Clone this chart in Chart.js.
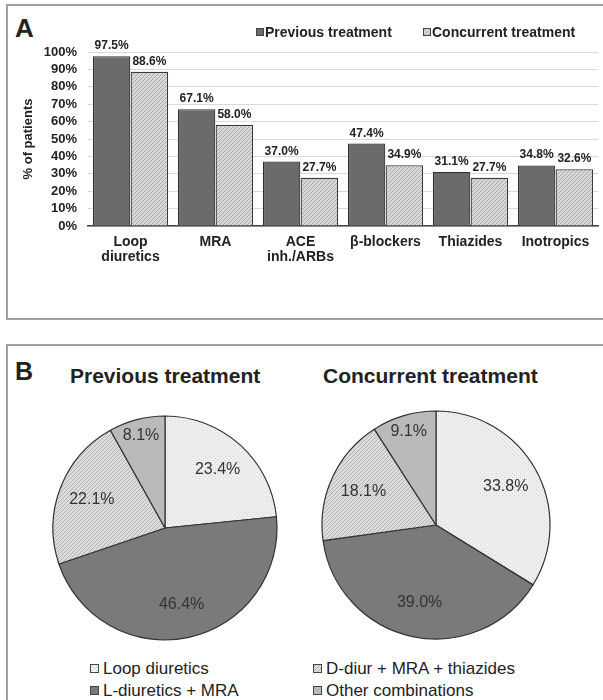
<!DOCTYPE html>
<html>
<head>
<meta charset="utf-8">
<script src="https://cdn.jsdelivr.net/npm/chart.js@4.4.1/dist/chart.umd.min.js"></script>
<style>
  body { margin: 0; width: 603px; height: 700px; background: #fff; position: relative; overflow: hidden;
         font-family: "Liberation Sans", Arial, sans-serif; color: #222; }
  .panel { position: absolute; border: 2px solid #a0a0a0; box-sizing: border-box; }
  #panelA { left: 6px; top: 4px; width: 620px; height: 316px; }
  #panelB { left: 6px; top: 344px; width: 620px; height: 420px; }
  .txt { position: absolute; line-height: 1; white-space: nowrap; }
  .letter { font-weight: bold; }
  canvas { position: absolute; }
  .sw { position: absolute; }
</style>
</head>
<body>
<div class="panel" id="panelA"></div>
<div class="panel" id="panelB"></div>

<div class="txt letter" style="left:15px; top:15px; font-size:26px;">A</div>
<div class="txt letter" style="left:15px; top:359px; font-size:25px;">B</div>

<canvas id="barChart" width="603" height="320" style="left:0; top:0;"></canvas>
<div id="barLegend"></div>

<div class="txt" id="titlePrev" style="left:70px; top:365px; font-size:21px; font-weight:bold;"></div>
<div class="txt" id="titleConc" style="left:323px; top:365px; font-size:21px; font-weight:bold;"></div>

<canvas id="piePrev" width="240" height="240" style="left:45px; top:408px;"></canvas>
<canvas id="pieConc" width="240" height="240" style="left:316px; top:405px;"></canvas>
<div id="pieLegend"></div>

<script>
// data
const categories = [['Loop', 'diuretics'], 'MRA', ['ACE', 'inh./ARBs'], 'β-blockers', 'Thiazides', 'Inotropics'];
const seriesNames = ['Previous treatment', 'Concurrent treatment'];
const previousPct = [97.5, 67.1, 37.0, 47.4, 31.1, 34.8];
const concurrentPct = [88.6, 58.0, 27.7, 34.9, 27.7, 32.6];

const pieTitles = ['Previous treatment', 'Concurrent treatment'];
const comboLabels = ['Loop diuretics', 'L-diuretics + MRA', 'D-diur + MRA + thiazides', 'Other combinations'];
const previousCombo = [23.4, 46.4, 22.1, 8.1];
const concurrentCombo = [33.8, 39.0, 18.1, 9.1];

Chart.defaults.font.family = '"Liberation Sans", Arial, sans-serif';
Chart.defaults.color = '#222';

function makePattern(bg, fg, kind) {
    const c = document.createElement('canvas');
    c.width = 4;
    c.height = 4;
    const g = c.getContext('2d');
    g.fillStyle = bg;
    g.fillRect(0, 0, 4, 4);
    g.fillStyle = fg;
    if (kind === 'diag') {
        for (let i = 0; i < 4; i++) g.fillRect(i, 3 - i, 1, 1);
    } else {
        g.fillRect(0, 0, 1, 1);
        g.fillRect(2, 2, 1, 1);
    }
    return g.createPattern(c, 'repeat');
}

const prevBarFill = '#6b6b6b';
const concBarFill = makePattern('#d8d8d8', '#a9a9a9', 'diag');
const pieFills = [
    makePattern('#efefef', '#cfcfcf', 'dots'),
    '#7a7a7a',
    makePattern('#dcdcdc', '#b2b2b2', 'diag'),
    '#bababa'
];

// value labels above each bar
const barValueLabels = {
    id: 'barValueLabels',
    afterDatasetsDraw(chart) {
        const ctx = chart.ctx;
        ctx.save();
        ctx.font = 'bold 12px "Liberation Sans", Arial, sans-serif';
        ctx.fillStyle = '#222';
        ctx.textAlign = 'center';
        ctx.textBaseline = 'alphabetic';
        chart.data.datasets.forEach((ds, i) => {
            chart.getDatasetMeta(i).data.forEach((bar, j) => {
                ctx.fillText(ds.data[j].toFixed(1) + '%', bar.x, bar.y - 7);
            });
        });
        ctx.restore();
    }
};

// percentage labels inside the slices
const sliceLabels = {
    id: 'sliceLabels',
    afterDatasetsDraw(chart) {
        const ctx = chart.ctx;
        const values = chart.data.datasets[0].data;
        ctx.save();
        ctx.font = '16px "Liberation Sans", Arial, sans-serif';
        ctx.fillStyle = '#333';
        ctx.textAlign = 'center';
        ctx.textBaseline = 'middle';
        chart.getDatasetMeta(0).data.forEach((arc, i) => {
            const mid = (arc.startAngle + arc.endAngle) / 2;
            const f = values[i] < 10 ? 0.85 : 0.7;
            const x = arc.x + Math.cos(mid) * arc.outerRadius * f;
            const y = arc.y + Math.sin(mid) * arc.outerRadius * f;
            ctx.fillText(values[i].toFixed(1) + '%', x, y);
        });
        ctx.restore();
    }
};

const barChart = new Chart(document.getElementById('barChart'), {
    type: 'bar',
    data: {
        labels: categories,
        datasets: [{
            label: seriesNames[0],
            data: previousPct,
            backgroundColor: prevBarFill,
            borderColor: '#303030',
            borderWidth: 1.2
        }, {
            label: seriesNames[1],
            data: concurrentPct,
            backgroundColor: concBarFill,
            borderColor: '#3a3a3a',
            borderWidth: 1.2
        }]
    },
    options: {
        responsive: false,
        animation: false,
        layout: { padding: { top: 52, left: 0, right: 5, bottom: 0 } },
        datasets: { bar: { categoryPercentage: 0.89, barPercentage: 0.99 } },
        plugins: {
            legend: { display: false },
            tooltip: { enabled: false }
        },
        scales: {
            y: {
                min: 0,
                max: 100,
                ticks: {
                    stepSize: 10,
                    autoSkip: false,
                    padding: 11,
                    font: { size: 13, weight: 'bold', lineHeight: 1 },
                    callback: v => v + '%'
                },
                grid: { color: '#dadada', drawTicks: false },
                border: { display: false },
                title: {
                    display: true,
                    text: '% of patients',
                    font: { size: 13, weight: 'bold' },
                    padding: { top: 21, bottom: 0 }
                },
                afterFit(scale) { scale.width = 88; }
            },
            x: {
                grid: { display: false, drawTicks: false },
                border: { color: '#444', width: 1.5 },
                ticks: {
                    padding: 8,
                    maxRotation: 0,
                    autoSkip: false,
                    font: { size: 14, weight: 'bold', lineHeight: 1.1 }
                },
                afterFit(scale) { scale.height = 94; }
            }
        }
    },
    plugins: [barValueLabels]
});

function makePie(id, values, radius) {
    return new Chart(document.getElementById(id), {
        type: 'pie',
        data: {
            labels: comboLabels,
            datasets: [{
                data: values,
                backgroundColor: pieFills,
                borderColor: '#333',
                borderWidth: 1.2
            }]
        },
        options: {
            responsive: false,
            animation: false,
            radius: radius,
            plugins: {
                legend: { display: false },
                tooltip: { enabled: false }
            }
        },
        plugins: [sliceLabels]
    });
}

makePie('piePrev', previousCombo, 112);
makePie('pieConc', concurrentCombo, 114);

document.getElementById('titlePrev').textContent = pieTitles[0];
document.getElementById('titleConc').textContent = pieTitles[1];

function swatch(fill, size, left, top) {
    const c = document.createElement('canvas');
    c.width = size;
    c.height = size;
    c.className = 'sw';
    c.style.left = left + 'px';
    c.style.top = top + 'px';
    const g = c.getContext('2d');
    g.fillStyle = fill;
    g.fillRect(0, 0, size, size);
    g.strokeStyle = '#444';
    g.lineWidth = 1;
    g.strokeRect(0.5, 0.5, size - 1, size - 1);
    return c;
}

function legendText(text, left, top, size, bold) {
    const d = document.createElement('div');
    d.className = 'txt';
    d.style.left = left + 'px';
    d.style.top = top + 'px';
    d.style.fontSize = size + 'px';
    if (bold) d.style.fontWeight = 'bold';
    d.textContent = text;
    return d;
}

// bar legend, top right
const barLegend = document.getElementById('barLegend');
const barFills = [prevBarFill, concBarFill];
const barLegendX = [256, 423];
barChart.data.datasets.forEach((ds, i) => {
    barLegend.appendChild(swatch(barFills[i], 8, barLegendX[i], 28));
    barLegend.appendChild(legendText(ds.label, barLegendX[i] + 9, 25, 14, true));
});

// pie legend, two columns
const pieLegend = document.getElementById('pieLegend');
comboLabels.forEach((name, i) => {
    const col = Math.floor(i / 2);
    const row = i % 2;
    const x = col === 0 ? 90 : 313;
    const yc = 669 + row * 22;
    pieLegend.appendChild(swatch(pieFills[i], 9, x, yc - 5));
    pieLegend.appendChild(legendText(name, x + 13, yc - 9, 17, false));
});
</script>
</body>
</html>
